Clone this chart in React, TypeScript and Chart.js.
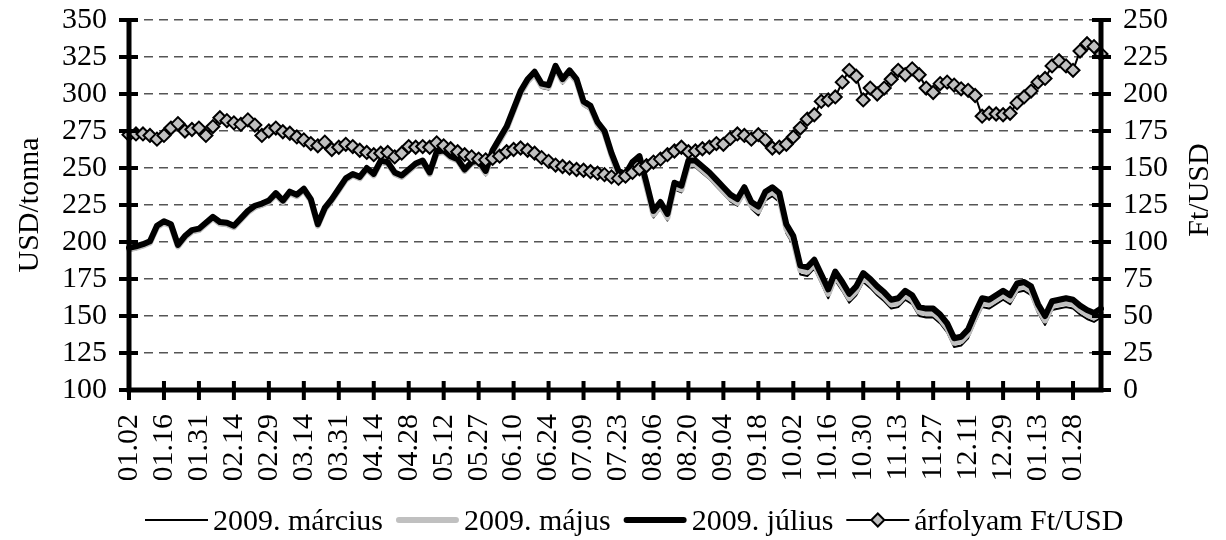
import { useEffect, useRef } from "react";
import { Chart, registerables } from "chart.js";

Chart.register(...registerables);

const FONT = '"Liberation Serif", "Times New Roman", serif';

// Tick labels (every 10th trading day; data sampled every 2nd trading day)
const tickLabels = [
  "01.02", "01.16", "01.31", "02.14", "02.29", "03.14", "03.31", "04.14", "04.28", "05.12",
  "05.27", "06.10", "06.24", "07.09", "07.23", "08.06", "08.20", "09.04", "09.18", "10.02",
  "10.16", "10.30", "11.13", "11.27", "12.11", "12.29", "01.13", "01.28",
];
const POINTS_PER_TICK = 5;

const marcius2009 = [
  194, 195, 196.5, 198.5, 209.5, 212, 210, 196, 202, 206,
  207, 211, 215.5, 211.5, 211, 209, 214, 219, 222.5, 224,
  226, 231, 226, 232, 230, 234, 227, 210, 221, 227,
  234, 241, 244, 242, 248, 244, 253, 252, 245, 243,
  247, 251, 253, 245, 259, 260, 256, 254, 247, 252,
  252, 245, 259, 267, 275, 287, 299, 307, 312, 304,
  303, 316, 307, 313, 307, 292, 289, 278, 272, 257,
  243.5, 241.5, 249.5, 253.5, 235.5, 216.5, 222.5, 214.5, 235.5, 233.5,
  250.5, 250.5, 246.5, 242.5, 237.5, 232.5, 227.5, 224.5, 232.5, 222.5,
  218, 228, 231, 227, 206, 198, 178, 177, 182, 172,
  162, 174, 167, 159, 164, 173, 169, 164, 160, 155,
  156, 161, 158, 150, 149, 149, 145, 139, 129, 130,
  135, 146, 156, 155, 158, 161, 158, 166, 167, 164,
  152, 144, 154, 155, 156, 155, 151, 148, 146, 149,
];

const majus2009 = [
  195, 196, 197.5, 199.5, 210, 213, 211, 197, 203, 207,
  208, 212, 216, 212.5, 212, 210, 215, 220, 223.5, 225,
  227, 232, 227, 233, 231, 235, 228, 211, 222, 228,
  235, 242, 245, 243, 249, 245, 254, 253, 246, 244,
  248, 252, 254, 246, 260, 261, 257, 255, 248, 253,
  253.5, 246.5, 260.5, 268.5, 276.5, 288.5, 300.5, 308.5, 313.5, 305.5,
  304.5, 317.5, 308.5, 314.5, 308.5, 293.5, 290.5, 279.5, 273.5, 258.5,
  245.5, 243.5, 251.5, 255.5, 237.5, 218.5, 224.5, 216.5, 237.5, 235.5,
  252.5, 252.5, 248.5, 244.5, 239.5, 234.5, 229.5, 226.5, 234.5, 224.5,
  221, 231, 234, 230, 209, 201, 181, 180, 185, 175,
  165, 177, 170, 162, 167, 176, 172, 167, 163, 158,
  159, 164, 161, 153, 152, 152, 148, 142, 132, 133,
  138, 149, 159, 158, 161, 164, 161, 169, 170, 167,
  155, 147, 157, 158, 159, 158, 154, 151, 149, 152,
];

const julius2009 = [
  196, 197, 198.5, 200.5, 211, 214, 212, 198, 204, 208,
  209, 213, 217, 213.5, 213, 211, 216, 221, 224.5, 226,
  228, 233, 228, 234, 232, 236, 229, 212, 223, 229,
  236, 243, 246, 244, 250, 246, 255, 254, 247, 245,
  249, 253, 255, 247, 261, 262, 258, 256, 249, 254,
  255, 248, 262, 270, 278, 290, 302, 310, 315, 307,
  306, 319, 310, 316, 310, 295, 292, 281, 275, 260,
  248, 246, 254, 258, 240, 221, 227, 219, 240, 238,
  255, 255, 251, 247, 242, 237, 232, 229, 237, 227,
  224, 234, 237, 233, 212, 204, 184, 183, 188, 178,
  168, 180, 173, 165, 170, 179, 175, 170, 166, 161,
  162, 167, 164, 156, 155, 155, 151, 145, 135, 136,
  141, 152, 162, 161, 164, 167, 164, 172, 173, 170,
  158, 150, 160, 161, 162, 161, 157, 154, 152, 155,
];

const arfolyamFtUsd = [
  172.5, 173, 173, 172, 169.5, 172, 177, 180, 175, 176,
  177, 172, 178, 184, 182, 180.5, 179.5, 182.5, 179, 172,
  175, 177, 174.5, 173.5, 171, 169, 166.5, 165, 167.5, 162.5,
  164, 166, 164.5, 162, 160.5, 159, 160, 160.5, 157.5, 160,
  164.5, 164, 164.5, 164, 167, 165, 163, 161, 159, 157.5,
  156, 155.5, 156.5, 158, 161, 162.5, 163.5, 162, 160, 157,
  154.5, 152, 151, 150, 149, 148.5, 147.5, 146.5, 145.5, 144,
  143, 144.5, 147, 149.5, 151.5, 154, 156, 159, 161.5, 164,
  161, 161.5, 163, 164, 166.5, 166, 170, 173, 172, 169.5,
  172.5, 169, 163.5, 164, 166, 171, 177, 183, 186, 195,
  196, 198, 208, 216, 212, 196, 204, 200, 204, 210,
  216, 213, 217, 213, 204, 201, 207, 208, 206, 203.5,
  202.5, 199, 185, 187, 186.5, 186, 187, 194, 198, 202,
  208, 210.5, 219, 222.5, 219, 216, 229, 234, 232, 227,
];

const categoryLabels = julius2009.map((_, k) =>
  k % POINTS_PER_TICK === 0 ? tickLabels[k / POINTS_PER_TICK] ?? "" : ""
);

const decorPlugin = {
  id: "decor",
  afterDraw(chart: any) {
    const { ctx, chartArea: a, scales } = chart;
    ctx.save();
    ctx.strokeStyle = "#000";
    ctx.lineCap = "butt";

    // axis lines
    ctx.lineWidth = 5;
    ctx.beginPath();
    ctx.moveTo(a.left, a.top - 2);
    ctx.lineTo(a.left, a.bottom + 2.5);
    ctx.moveTo(a.right, a.top - 2);
    ctx.lineTo(a.right, a.bottom + 2.5);
    ctx.moveTo(a.left - 2.5, a.bottom);
    ctx.lineTo(a.right + 2.5, a.bottom);
    ctx.stroke();

    // crossing tick marks
    ctx.lineWidth = 4;
    ctx.beginPath();
    const ys = scales.y;
    ys.ticks.forEach((_: any, i: number) => {
      const p = ys.getPixelForTick(i);
      ctx.moveTo(a.left - 10, p);
      ctx.lineTo(a.left + 9, p);
    });
    const y1 = scales.y1;
    y1.ticks.forEach((_: any, i: number) => {
      const p = y1.getPixelForTick(i);
      ctx.moveTo(a.right - 9, p);
      ctx.lineTo(a.right + 10, p);
    });
    const xs = scales.x;
    xs.ticks.forEach((_: any, i: number) => {
      if (i % POINTS_PER_TICK !== 0) return;
      const p = xs.getPixelForTick(i);
      ctx.moveTo(p, a.bottom - 9);
      ctx.lineTo(p, a.bottom + 10);
    });
    ctx.stroke();

    // right axis title (reads bottom-to-top)
    const rt = chart.options.scales.y1.title.text;
    ctx.save();
    ctx.translate(1200, 190);
    ctx.rotate(-Math.PI / 2);
    ctx.font = `30px ${FONT}`;
    ctx.fillStyle = "#000";
    ctx.textAlign = "center";
    ctx.textBaseline = "middle";
    ctx.fillText(rt, 0, 0);
    ctx.restore();

    // legend
    ctx.font = `30px ${FONT}`;
    ctx.fillStyle = "#000";
    ctx.textAlign = "left";
    ctx.textBaseline = "alphabetic";
    let x = 145;
    const ly = 520;
    const sampleLen = 63;
    chart.data.datasets.forEach((ds: any) => {
      ctx.save();
      ctx.strokeStyle = ds.borderColor;
      ctx.lineWidth = ds.borderWidth;
      ctx.lineCap = ds.borderWidth > 3 ? "round" : "butt";
      ctx.beginPath();
      const inset = ds.borderWidth > 3 ? ds.borderWidth / 2 : 0;
      ctx.moveTo(x + inset, ly);
      ctx.lineTo(x + sampleLen - inset, ly);
      ctx.stroke();
      if (ds.pointRadius > 0) {
        const cx = x + sampleLen / 2;
        const r = ds.pointRadius;
        ctx.beginPath();
        ctx.moveTo(cx - r, ly);
        ctx.lineTo(cx, ly - r);
        ctx.lineTo(cx + r, ly);
        ctx.lineTo(cx, ly + r);
        ctx.closePath();
        ctx.fillStyle = ds.pointBackgroundColor;
        ctx.fill();
        ctx.lineWidth = ds.pointBorderWidth;
        ctx.strokeStyle = ds.pointBorderColor;
        ctx.stroke();
      }
      ctx.restore();
      x += sampleLen + 5;
      ctx.fillText(ds.label, x, 530);
      x += ctx.measureText(ds.label).width + 13;
    });
    ctx.restore();
  },
};

export default function App() {
  const ref = useRef<HTMLCanvasElement | null>(null);

  useEffect(() => {
    if (!ref.current) return;
    const tickFont = { family: FONT, size: 30, lineHeight: 1 };
    const chart = new Chart(ref.current, {
      type: "line",
      data: {
        labels: categoryLabels,
        datasets: [
          {
            label: "2009. március",
            data: marcius2009,
            yAxisID: "y",
            borderColor: "#000000",
            borderWidth: 2,
            pointRadius: 0,
            tension: 0,
            borderJoinStyle: "round",
            order: 3,
          },
          {
            label: "2009. május",
            data: majus2009,
            yAxisID: "y",
            borderColor: "#c0c0c0",
            borderWidth: 6,
            pointRadius: 0,
            tension: 0,
            borderJoinStyle: "round",
            borderCapStyle: "round",
            order: 2,
          },
          {
            label: "2009. július",
            data: julius2009,
            yAxisID: "y",
            borderColor: "#000000",
            borderWidth: 6,
            pointRadius: 0,
            tension: 0,
            borderJoinStyle: "round",
            borderCapStyle: "round",
            order: 1,
          },
          {
            label: "árfolyam Ft/USD",
            data: arfolyamFtUsd,
            yAxisID: "y1",
            borderColor: "#000000",
            borderWidth: 2,
            pointStyle: "rectRot",
            pointRadius: 6.5,
            pointBackgroundColor: "#c0c0c0",
            pointBorderColor: "#000000",
            pointBorderWidth: 2,
            tension: 0,
            order: 0,
          },
        ],
      },
      options: {
        responsive: false,
        animation: false,
        events: [],
        layout: { padding: { top: 20, bottom: 60, left: 0, right: 0 } },
        plugins: {
          legend: { display: false },
          tooltip: { enabled: false },
        },
        scales: {
          x: {
            type: "category",
            offset: false,
            grid: { display: false, drawTicks: false },
            border: { display: false },
            ticks: {
              autoSkip: false,
              minRotation: 90,
              maxRotation: 90,
              padding: 24,
              color: "#000",
              font: tickFont,
            },
            afterFit: (s: any) => {
              s.height = 90;
              s.paddingLeft = 0;
              s.paddingRight = 0;
            },
          },
          y: {
            position: "left",
            min: 100,
            max: 350,
            ticks: { stepSize: 25, autoSkip: false, padding: 22, color: "#000", font: tickFont },
            grid: { color: "#555555", lineWidth: 1.5, drawTicks: false },
            border: { display: false, dash: [9, 6] },
            title: {
              display: true,
              text: "USD/tonna",
              color: "#000",
              font: { family: FONT, size: 30 },
              padding: { top: 12, bottom: 0 },
            },
            afterFit: (s: any) => {
              s.width = 129;
              s.paddingTop = 0;
              s.paddingBottom = 0;
            },
          },
          y1: {
            position: "right",
            min: 0,
            max: 250,
            ticks: { stepSize: 25, autoSkip: false, padding: 22, color: "#000", font: tickFont },
            grid: { display: false, drawTicks: false, drawOnChartArea: false },
            border: { display: false },
            title: { display: false, text: "Ft/USD" },
            afterFit: (s: any) => {
              s.width = 125;
              s.paddingTop = 0;
              s.paddingBottom = 0;
            },
          },
        },
      } as any,
      plugins: [decorPlugin],
    });
    return () => chart.destroy();
  }, []);

  return (
    <div style={{ position: "absolute", left: 0, top: 0, width: 1226, height: 540, background: "#fff" }}>
      <canvas ref={ref} width={1226} height={540} style={{ display: "block" }} />
    </div>
  );
}
